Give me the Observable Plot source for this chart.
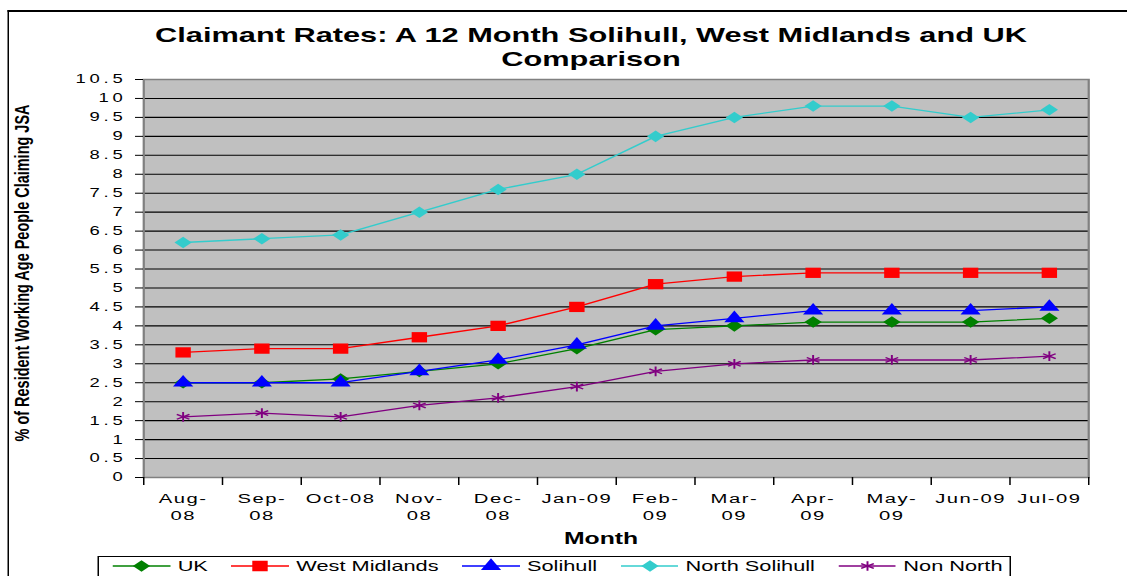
<!DOCTYPE html>
<html>
<head>
<meta charset="utf-8">
<script src="https://cdn.jsdelivr.net/npm/d3@7"></script>
<script src="https://cdn.jsdelivr.net/npm/@observablehq/plot@0.6"></script>
<style>
  html, body { margin: 0; padding: 0; background: #fff; }
  #wrap { position: relative; width: 1127px; height: 576px; overflow: hidden;
          font-family: "Liberation Sans", Arial, sans-serif; color: #000; }
  /* the reference picture is stretched horizontally; reproduce that */
  #stage { position: absolute; left: 0; top: 0; width: 751.33px; height: 576px;
           transform: scaleX(1.5); transform-origin: 0 0; }
  #border { position: absolute; left: 5.33px; top: 10px; width: 900px; height: 700px;
            border-left: 1.33px solid #000; border-top: 2px solid #000; }
  #title { position: absolute; left: 84px; width: 620px; top: 23.2px; text-align: center;
           font-weight: bold; font-size: 20.5px; line-height: 24px; }
  #chart { position: absolute; left: 0; top: 0; }
  #ylab { position: absolute; left: 0; top: 0; }
  #xlab { position: absolute; left: 300.7px; width: 200px; top: 527.5px; text-align: center;
          font-weight: bold; font-size: 16.5px; line-height: 20px; }
  #legend { position: absolute; left: 64.67px; top: 556px; height: 40px;
            border-top: 1.5px solid #000; border-bottom: 1.5px solid #000;
            border-left: 1px solid #000; border-right: 1px solid #000;
            display: flex; align-items: flex-start; gap: 15.5px;
            padding: 0 5px 0 9.33px; font-size: 14.5px; line-height: 18px; }
  .item { display: flex; align-items: center; gap: 4.8px; white-space: nowrap; }
  .item svg { display: block; }
</style>
</head>
<body>
<div id="wrap">
  <div id="stage">
    <div id="border"></div>
    <div id="chart"></div>
    <svg id="ylab" width="60" height="576"></svg>
    <div id="title"></div>
    <div id="xlab"></div>
    <div id="legend"></div>
  </div>
</div>
<script>
// ---------- data ----------
const titleText = "Claimant Rates: A 12 Month Solihull, West Midlands and UK Comparison";
const yLabelText = "% of Resident Working Age People Claiming JSA";
const xLabelText = "Month";

const months = ["Aug-08","Sep-08","Oct-08","Nov-08","Dec-08","Jan-09","Feb-09","Mar-09","Apr-09","May-09","Jun-09","Jul-09"];
const xTickLabels = ["Aug-\n08","Sep-\n08","Oct-08","Nov-\n08","Dec-\n08","Jan-09","Feb-\n09","Mar-\n09","Apr-\n09","May-\n09","Jun-09","Jul-09"];
const yTicks = [0,0.5,1,1.5,2,2.5,3,3.5,4,4.5,5,5.5,6,6.5,7,7.5,8,8.5,9,9.5,10,10.5];

const series = ["UK","West Midlands","Solihull","North Solihull","Non North"];
const uk            = [2.5,2.5,2.6,2.8,3.0,3.4,3.9,4.0,4.1,4.1,4.1,4.2];
const westMidlands  = [3.3,3.4,3.4,3.7,4.0,4.5,5.1,5.3,5.4,5.4,5.4,5.4];
const solihull      = [2.5,2.5,2.5,2.8,3.1,3.5,4.0,4.2,4.4,4.4,4.4,4.5];
const northSolihull = [6.2,6.3,6.4,7.0,7.6,8.0,9.0,9.5,9.8,9.8,9.5,9.7];
const nonNorth      = [1.6,1.7,1.6,1.9,2.1,2.4,2.8,3.0,3.1,3.1,3.1,3.2];

// ---------- styles ----------
const seriesValues = [uk, westMidlands, solihull, northSolihull, nonNorth];
const colors = ["#008000","#ff0000","#0000ff","#33cccc","#800080"];
const markers = [
  {symbol: d3.symbolDiamond2, r: 5.2, filled: true},
  {symbol: d3.symbolSquare,   r: 5.8, filled: true},
  {symbol: d3.symbolTriangle, r: 5,   filled: true},
  {symbol: d3.symbolDiamond2, r: 5.2, filled: true},
  {symbol: d3.symbolAsterisk, r: 4.6, filled: false}
];
const font = '"Liberation Sans", Arial, sans-serif';

const W = 751.33, H = 576;
const M = {left: 95.33, right: 26, top: 79, bottom: 99};

const rows = series.flatMap((s, k) => seriesValues[k].map((v, i) => ({series: s, i, month: months[i], value: v})));
const boundaries = d3.range(months.length + 1).map(i => i - 0.5);

const seriesMarks = series.flatMap((s, k) => {
  const data = rows.filter(d => d.series === s);
  const m = markers[k];
  return [
    Plot.line(data, {x: "i", y: "value", stroke: "series", strokeWidth: 1.3}),
    Plot.dot(data, {x: "i", y: "value", symbol: m.symbol, r: m.r,
      fill: m.filled ? "series" : "none",
      stroke: m.filled ? "none" : "series", strokeWidth: 1.3})
  ];
});

const chart = Plot.plot({
  width: W, height: H,
  marginLeft: M.left, marginRight: M.right, marginTop: M.top, marginBottom: M.bottom,
  x: {domain: [-0.5, months.length - 0.5], axis: null},
  y: {domain: [0, 10.5], axis: null},
  color: {domain: series, range: colors},
  style: {fontFamily: font, color: "#000", background: "transparent", overflow: "visible"},
  marks: [
    Plot.frame({fill: "#c0c0c0"}),
    Plot.gridY(yTicks, {stroke: "#000", strokeOpacity: 1, strokeWidth: 1.1}),
    ...seriesMarks,
    Plot.frame({stroke: "#808080", strokeWidth: 1.5}),
    Plot.axisY(yTicks, {tickSize: 5.33, tickPadding: 6.2, fontSize: 12.3, label: null,
      tickFormat: d => String(d)}),
    Plot.axisX(boundaries, {tickSize: 8, tickFormat: () => "", label: null}),
    Plot.axisX(d3.range(months.length), {tickSize: 0, tickPadding: 13, fontSize: 13.5,
      lineHeight: 1.3, label: null, tickFormat: i => xTickLabels[i]})
  ]
});
chart.querySelectorAll('[aria-label="y-axis tick label"] text').forEach(t => t.style.letterSpacing = "2.5px");
chart.querySelectorAll('[aria-label="x-axis tick label"] text').forEach(t => t.style.letterSpacing = "1px");
document.getElementById("chart").appendChild(chart);

// title and axis title
document.getElementById("title").textContent = titleText;
document.getElementById("xlab").textContent = xLabelText;

// rotated y label
d3.select("#ylab").append("text")
  .attr("transform", "translate(19.5,273) rotate(-90)")
  .attr("text-anchor", "middle")
  .attr("font-family", font)
  .attr("font-weight", "bold")
  .attr("font-size", 13)
  .attr("textLength", 337)
  .attr("lengthAdjust", "spacingAndGlyphs")
  .text(yLabelText);

// legend
const legend = d3.select("#legend");
series.forEach((s, k) => {
  const item = legend.append("div").attr("class", "item");
  const svg = item.append("svg").attr("width", 38.67).attr("height", 18);
  svg.append("line").attr("x1", 0).attr("x2", 38.67).attr("y1", 9).attr("y2", 9)
    .attr("stroke", colors[k]).attr("stroke-width", 1.3);
  const m = markers[k];
  const size = Math.PI * m.r * m.r;
  svg.append("path")
    .attr("transform", "translate(19.33,9)")
    .attr("d", d3.symbol(m.symbol, size)())
    .attr("fill", m.filled ? colors[k] : "none")
    .attr("stroke", m.filled ? "none" : colors[k])
    .attr("stroke-width", 1.3);
  item.append("span").text(s);
});
</script>
</body>
</html>
